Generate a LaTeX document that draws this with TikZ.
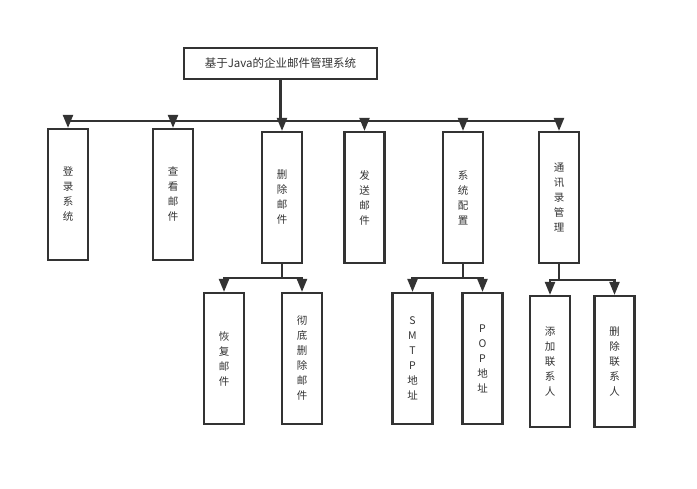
\documentclass[tikz,border=0pt]{standalone}
\usepackage{fontspec}
\setmainfont{Noto Sans CJK SC}
\usepackage{tikz}
\usetikzlibrary{arrows.meta, positioning, calc}

\begin{document}
\begin{tikzpicture}[
  x=1pt, y=-1pt,
  line/.style={line width=2.2pt, black!80},
  arrow/.style={line, -{Triangle[length=13pt, width=10pt]}},
  title/.style={draw=black!80, line width=2.2pt, minimum width=193pt, minimum height=31pt, inner sep=0pt, font=\fontsize{11.5}{14}\selectfont, text=black!80},
  box/.style={draw=black!80, line width=2.2pt, minimum width=40pt, minimum height=131pt, inner sep=0pt, align=center, font=\fontsize{10.5}{15}\selectfont, text=black!80}
]
\useasboundingbox (0,0) rectangle (697,488);

% Title
\node[title] (sys) at (280.5, 63.5) {基于Java的企业邮件管理系统};

% Level 1: main modules
\node[box] (login) at (68, 194.5) {登\\录\\系\\统};
\node[box] (view) at (173, 194.5) {查\\看\\邮\\件};
\node[box] (del) at (282, 197.5) {删\\除\\邮\\件};
\node[box] (send) at (364.5, 197.5) {发\\送\\邮\\件};
\node[box] (config) at (463, 197.5) {系\\统\\配\\置};
\node[box] (contacts) at (559, 197.5) {通\\讯\\录\\管\\理};

% Level 2: sub modules
\node[box] (restore) at (224, 358.5) {恢\\复\\邮\\件};
\node[box] (purge) at (302, 358.5) {彻\\底\\删\\除\\邮\\件};
\node[box] (smtp) at (412.5, 358.5) {S\\M\\T\\P\\地\\址};
\node[box] (pop) at (482.5, 358.5) {P\\O\\P\\地\\址};
\node[box] (addc) at (550, 361.5) {添\\加\\联\\系\\人};
\node[box] (delc) at (614.5, 361.5) {删\\除\\联\\系\\人};

% Buses
\coordinate (bus) at ($(sys.south) + (0, 40.5)$);
\coordinate (delbus) at ($(del.south) + (0, 14)$);
\coordinate (confbus) at ($(config.south) + (0, 14)$);
\coordinate (contbus) at ($(contacts.south) + (0, 16)$);

% Arrows
\draw[line] (sys.south) -- (bus);
\foreach \n in {login, view, del, send, config, contacts}
  \draw[arrow] (bus) -| (\n.north);

\draw[line] (del.south) -- (delbus);
\draw[arrow] (delbus) -| (restore.north);
\draw[arrow] (delbus) -| (purge.north);

\draw[line] (config.south) -- (confbus);
\draw[arrow] (confbus) -| (smtp.north);
\draw[arrow] (confbus) -| (pop.north);

\draw[line] (contacts.south) -- (contbus);
\draw[arrow] (contbus) -| (addc.north);
\draw[arrow] (contbus) -| (delc.north);

\end{tikzpicture}
\end{document}
